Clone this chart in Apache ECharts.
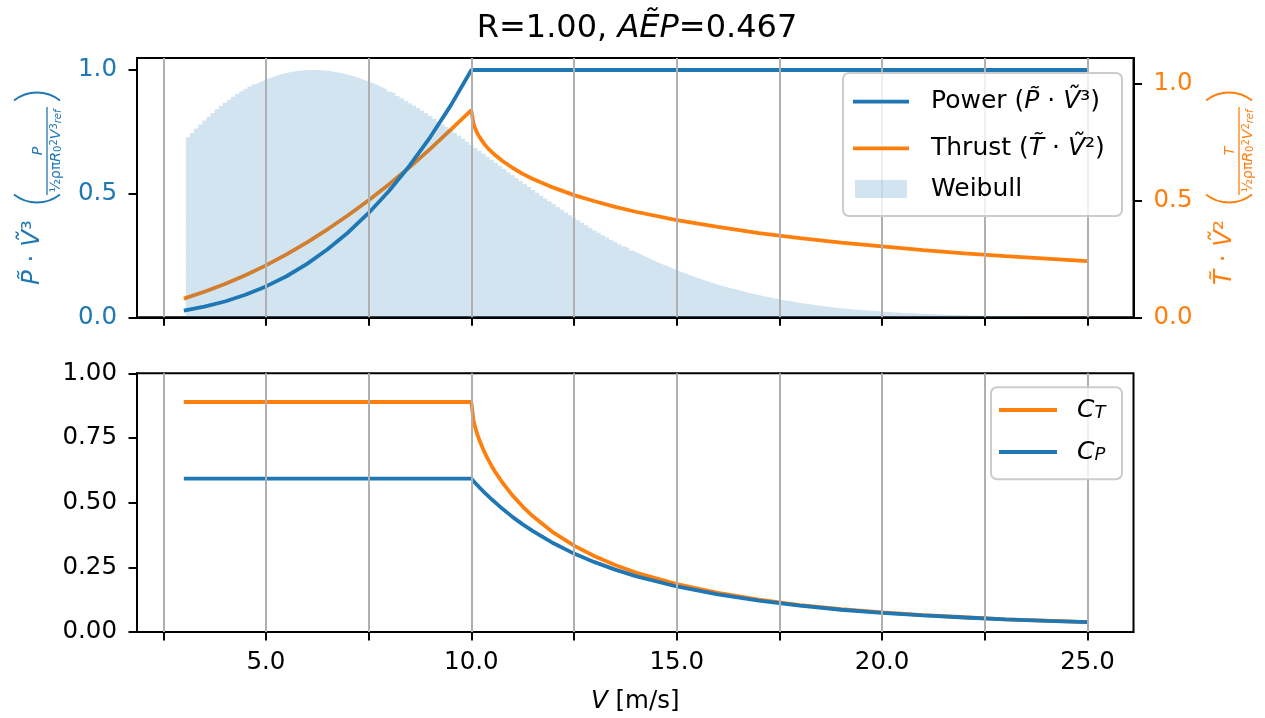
<!DOCTYPE html>
<html>
<head>
<meta charset="utf-8">
<script src="https://cdn.jsdelivr.net/npm/echarts@6/dist/echarts.min.js"></script>
<style>
html,body{margin:0;padding:0;background:#fff;}
#chart{width:1265px;height:718px;}
</style>
</head>
<body>
<div id="chart"></div>
<script>
// ---------------- data ----------------
const windSpeed = [3.0,3.5,4.0,4.5,5.0,5.5,6.0,6.5,7.0,7.5,8.0,8.5,9.0,9.5,10.0,
  10.05,10.1,10.15,10.2,10.3,10.4,10.5,10.6,10.75,11.0,11.25,11.5,12.0,12.5,13.0,13.5,14.0,
  15.0,16.0,17.0,18.0,19.0,20.0,21.0,22.0,23.0,24.0,25.0];
const powerNorm = [0.027,0.043,0.064,0.091,0.125,0.166,0.216,0.275,0.343,0.422,0.512,0.614,0.729,0.857,1.0,
  1.0,1.0,1.0,1.0,1.0,1.0,1.0,1.0,1.0,1.0,1.0,1.0,1.0,1.0,1.0,1.0,1.0,
  1.0,1.0,1.0,1.0,1.0,1.0,1.0,1.0,1.0,1.0,1.0];
const thrustNorm = [0.080,0.109,0.142,0.180,0.222,0.269,0.320,0.376,0.436,0.500,0.569,0.642,0.720,0.802,0.885,
  0.828,0.804,0.785,0.770,0.744,0.723,0.706,0.690,0.669,0.639,0.613,0.591,0.554,0.522,0.496,0.472,0.451,
  0.415,0.386,0.360,0.338,0.319,0.303,0.287,0.273,0.261,0.251,0.240];
const ctValues = [0.889,0.889,0.889,0.889,0.889,0.889,0.889,0.889,0.889,0.889,0.889,0.889,0.889,0.889,0.889,
  0.819,0.788,0.762,0.740,0.701,0.669,0.640,0.614,0.579,0.528,0.485,0.447,0.384,0.334,0.293,0.259,0.230,
  0.185,0.151,0.125,0.104,0.088,0.076,0.065,0.057,0.049,0.044,0.038];
const cpValues = [0.593,0.593,0.593,0.593,0.593,0.593,0.593,0.593,0.593,0.593,0.593,0.593,0.593,0.593,0.593,
  0.584,0.575,0.567,0.558,0.542,0.527,0.512,0.498,0.477,0.445,0.416,0.390,0.343,0.303,0.270,0.241,0.216,
  0.176,0.145,0.121,0.102,0.086,0.074,0.064,0.056,0.049,0.043,0.038];

const weibullStart = 3.05;
const weibullBinWidth = 0.1;
const weibullValues = [
  0.728,0.745,0.763,0.780,0.796,0.811,0.826,0.841,0.854,0.868,
  0.880,0.892,0.903,0.914,0.924,0.933,0.942,0.950,0.958,0.965,
  0.971,0.977,0.982,0.986,0.990,0.993,0.996,0.998,0.999,1.000,
  1.000,1.000,0.999,0.998,0.996,0.993,0.990,0.987,0.983,0.979,
  0.974,0.969,0.963,0.957,0.950,0.944,0.936,0.929,0.921,0.912,
  0.904,0.895,0.886,0.876,0.866,0.856,0.846,0.836,0.825,0.814,
  0.803,0.792,0.780,0.769,0.757,0.745,0.734,0.722,0.710,0.697,
  0.685,0.673,0.661,0.649,0.636,0.624,0.612,0.600,0.587,0.575,
  0.563,0.551,0.539,0.527,0.515,0.504,0.492,0.480,0.469,0.458,
  0.446,0.435,0.424,0.413,0.403,0.392,0.382,0.372,0.361,0.351,
  0.342,0.332,0.323,0.313,0.304,0.295,0.286,0.278,0.269,0.261,
  0.253,0.245,0.237,0.230,0.222,0.215,0.208,0.201,0.194,0.188,
  0.181,0.175,0.169,0.163,0.157,0.151,0.146,0.141,0.136,0.130,
  0.126,0.121,0.116,0.112,0.108,0.103,0.099,0.095,0.092,0.088,
  0.084,0.081,0.078,0.074,0.071,0.068,0.066,0.063,0.060,0.057,
  0.055,0.053,0.050,0.048,0.046,0.044,0.042,0.040,0.038,0.036,
  0.035,0.033,0.032,0.030,0.029,0.027,0.026,0.025,0.024,0.022,
  0.021,0.020,0.019,0.018,0.017,0.016,0.016,0.015,0.014,0.013,
  0.013,0.012,0.011,0.011,0.010,0.010,0.009,0.009,0.008,0.008,
  0.007,0.007,0.007,0.006,0.006,0.006,0.005,0.005,0.005,0.004,
  0.004,0.004,0.004,0.003,0.003,0.003,0.003,0.003,0.002,0.002,
  0.002,0.002,0.002,0.002,0.002,0.002,0.001,0.001,0.001,0.001,
  0.001];

const xGridTicks = [2.5,5,7.5,10,12.5,15,17.5,20,22.5,25];
const xTickLabels = [5,10,15,20,25];
const topLeftTicks = [0,0.5,1.0];
const topRightTicks = [0,0.5,1.0];
const bottomTicks = [0,0.25,0.5,0.75,1.0];

const titleR = '1.00';
const titleAEP = '0.467';

// ---------------- styling ----------------
const FONT = 'DejaVu Sans';
const BLUE = '#1f77b4';
const ORANGE = '#ff7f0e';
const FILL = 'rgba(31,119,180,0.2)';
const TIL = '\u0303';
const VT = '\u1E7C';
const TICK_FS = 24.5;
const LW = 3.8;

function zip(xs, ys){ return xs.map((x,i)=>[x, ys[i]]); }
const weibullData = weibullValues.map((v,i)=>[weibullStart + i*weibullBinWidth, v]);

function rich(color, size){
  return {
    n:{fontFamily:FONT, fontSize:size, fill:color, color:color},
    i:{fontFamily:FONT, fontSize:size, fontStyle:'italic', fill:color, color:color},
    sb:{fontFamily:FONT, fontSize:Math.round(size*0.7), fontStyle:'italic', fill:color, color:color, verticalAlign:'bottom', lineHeight:Math.round(size*0.7)},
    sp:{fontFamily:FONT, fontSize:Math.round(size*0.7), fill:color, color:color, verticalAlign:'top', lineHeight:Math.round(size*0.7)},
    sbn:{fontFamily:FONT, fontSize:Math.round(size*0.7), fill:color, color:color, verticalAlign:'bottom', lineHeight:Math.round(size*0.7)}
  };
}
function txt(x, y, text, color, size, align, valign, extra){
  return Object.assign({type:'text', x:x, y:y, silent:true, z:100, style:{
    text:text, fill:color, fontFamily:FONT, fontSize:size,
    align:align, textAlign:align, verticalAlign:valign, textVerticalAlign:valign,
    rich:rich(color,size)
  }}, extra||{});
}

function yLabelGroup(gx, color, letter, powDigit){
  const h = 23, s = 8, r = (h*h + s*s)/(2*s);
  const half = Math.asin(h/r);
  const lineW = 1.8;
  return {
    type:'group', x:gx, y:310, rotation:Math.PI/2, silent:true, z:100,
    children:[
      txt(25, 33, '{i|'+letter+TIL+'}{n| \u00B7 }{i|'+VT+'}{n|'+powDigit+'}', color, 24.5, 'left', 'middle'),
      {type:'arc', shape:{cx:107.5+r, cy:37, r:r, startAngle:Math.PI-half, endAngle:Math.PI+half, clockwise:true},
        style:{stroke:color, lineWidth:lineW, fill:null}},
      {type:'arc', shape:{cx:217.5-r, cy:37, r:r, startAngle:-half, endAngle:half, clockwise:true},
        style:{stroke:color, lineWidth:lineW, fill:null}},
      txt(159, 45, '{i|'+letter+'}', color, 14, 'center', 'bottom'),
      {type:'line', shape:{x1:115, y1:47, x2:203, y2:47}, style:{stroke:color, lineWidth:1.3}},
      txt(159, 49, '{n|\u00BD\u03C1\u03C0}{i|R}{sbn|0}{sp|2}{i|V}{sp|'+(powDigit==='\u00B3'?'3':'2')+'}{sb|ref}', color, 14, 'center', 'top')
    ]
  };
}

const chart = echarts.init(document.getElementById('chart'), null, {renderer:'canvas'});

const axisLineStyle = {show:true, lineStyle:{color:'#000', width:2}};
const tickStyle = (vals)=>({show:true, customValues:vals, length:8.5, inside:false, lineStyle:{color:'#000', width:2}});

const option = {
  animation:false,
  backgroundColor:'#ffffff',
  grid:[
    {left:137, top:58, width:996.5, height:259.3, show:true, borderColor:'#000', borderWidth:2, backgroundColor:'rgba(0,0,0,0)', containLabel:false, outerBoundsMode:'none'},
    {left:137, top:373.3, width:996.5, height:258.7, show:true, borderColor:'#000', borderWidth:2, backgroundColor:'rgba(0,0,0,0)', containLabel:false, outerBoundsMode:'none'}
  ],
  xAxis:[
    {type:'value', gridIndex:0, min:1.86, max:26.12, axisLine:axisLineStyle, axisTick:tickStyle(xGridTicks),
      axisLabel:{show:false}, splitLine:{show:false}},
    {type:'value', gridIndex:1, min:1.86, max:26.12, axisLine:axisLineStyle, axisTick:tickStyle(xGridTicks),
      axisLabel:{show:true, customValues:xTickLabels, formatter:(v)=>Number(v).toFixed(1), color:'#000', fontSize:TICK_FS, fontFamily:FONT, margin:18},
      splitLine:{show:false},
      name:'{i|V} [m/s]', nameLocation:'middle', nameGap:57,
      nameTextStyle:{color:'#000', fontSize:TICK_FS, fontFamily:FONT, rich:{i:{fontStyle:'italic', fontSize:TICK_FS, fontFamily:FONT, color:'#000'}}}}
  ],
  yAxis:[
    {type:'value', gridIndex:0, position:'left', min:0, max:1.0485, axisLine:axisLineStyle, axisTick:tickStyle(topLeftTicks),
      axisLabel:{show:true, customValues:topLeftTicks, formatter:(v)=>Number(v).toFixed(1), color:BLUE, fontSize:TICK_FS, fontFamily:FONT, margin:20},
      splitLine:{show:false}},
    {type:'value', gridIndex:0, position:'right', min:0, max:1.108, axisLine:axisLineStyle, axisTick:tickStyle(topRightTicks),
      axisLabel:{show:true, customValues:topRightTicks, formatter:(v)=>Number(v).toFixed(1), color:ORANGE, fontSize:TICK_FS, fontFamily:FONT, margin:20},
      splitLine:{show:false}},
    {type:'value', gridIndex:1, position:'left', min:0, max:1, axisLine:axisLineStyle, axisTick:tickStyle(bottomTicks),
      axisLabel:{show:true, customValues:bottomTicks, formatter:(v)=>Number(v).toFixed(2), color:'#000', fontSize:TICK_FS, fontFamily:FONT, margin:20},
      splitLine:{show:false}}
  ],
  series:[
    {name:'gridTop', type:'line', xAxisIndex:0, yAxisIndex:0, data:[], z:1, silent:true,
      markLine:{silent:true, symbol:['none','none'], label:{show:false}, animation:false,
        lineStyle:{color:'#b0b0b0', width:2, type:'solid'}, emphasis:{disabled:true},
        data:xGridTicks.map(v=>({xAxis:v}))}},
    {name:'Thrust', type:'line', xAxisIndex:0, yAxisIndex:1, data:zip(windSpeed, thrustNorm), z:2,
      symbol:'none', showSymbol:false, lineStyle:{color:ORANGE, width:LW}, itemStyle:{color:ORANGE}, silent:true},
    {name:'Weibull', type:'line', xAxisIndex:0, yAxisIndex:0, data:weibullData, step:'end', z:3,
      symbol:'none', showSymbol:false, lineStyle:{width:0, opacity:0}, itemStyle:{color:FILL},
      areaStyle:{color:FILL, opacity:1, origin:'start'}, silent:true},
    {name:'Power', type:'line', xAxisIndex:0, yAxisIndex:0, data:zip(windSpeed, powerNorm), z:4,
      symbol:'none', showSymbol:false, lineStyle:{color:BLUE, width:LW}, itemStyle:{color:BLUE}, silent:true},
    {name:'gridBottom', type:'line', xAxisIndex:1, yAxisIndex:2, data:[], z:1, silent:true,
      markLine:{silent:true, symbol:['none','none'], label:{show:false}, animation:false,
        lineStyle:{color:'#b0b0b0', width:2, type:'solid'}, emphasis:{disabled:true},
        data:xGridTicks.map(v=>({xAxis:v}))}},
    {name:'CT', type:'line', xAxisIndex:1, yAxisIndex:2, data:zip(windSpeed, ctValues), z:2,
      symbol:'none', showSymbol:false, lineStyle:{color:ORANGE, width:LW}, itemStyle:{color:ORANGE}, silent:true},
    {name:'CP', type:'line', xAxisIndex:1, yAxisIndex:2, data:zip(windSpeed, cpValues), z:3,
      symbol:'none', showSymbol:false, lineStyle:{color:BLUE, width:LW}, itemStyle:{color:BLUE}, silent:true}
  ],
  graphic:[
    // title
    txt(637, 29, '{n|R='+titleR+', }{i|A\u1EBCP}{n|='+titleAEP+'}', '#000', 32, 'center', 'middle'),
    // y-axis labels
    yLabelGroup(0, BLUE, 'P', '\u00B3'),
    yLabelGroup(1192, ORANGE, 'T', '\u00B2'),
    // top legend
    {type:'rect', z:90, silent:true, shape:{x:843, y:73, width:279, height:143, r:6},
      style:{fill:'rgba(255,255,255,0.8)', stroke:'#cccccc', lineWidth:2}},
    {type:'line', z:91, silent:true, shape:{x1:853, y1:101.7, x2:909, y2:101.7}, style:{stroke:BLUE, lineWidth:LW}},
    txt(931, 101.7, '{n|Power (}{i|P'+TIL+'}{n| \u00B7 }{i|'+VT+'}{n|\u00B3)}', '#000', 25, 'left', 'middle'),
    {type:'line', z:91, silent:true, shape:{x1:853, y1:148.3, x2:909, y2:148.3}, style:{stroke:ORANGE, lineWidth:LW}},
    txt(931, 148.3, '{n|Thrust (}{i|T'+TIL+'}{n| \u00B7 }{i|'+VT+'}{n|\u00B2)}', '#000', 25, 'left', 'middle'),
    {type:'rect', z:91, silent:true, shape:{x:855, y:180, width:52, height:18}, style:{fill:FILL}},
    txt(931, 189, '{n|Weibull}', '#000', 25, 'left', 'middle'),
    // bottom legend
    {type:'rect', z:90, silent:true, shape:{x:991, y:387.3, width:131, height:92, r:6},
      style:{fill:'rgba(255,255,255,0.8)', stroke:'#cccccc', lineWidth:2}},
    {type:'line', z:91, silent:true, shape:{x1:999, y1:410, x2:1057, y2:410}, style:{stroke:ORANGE, lineWidth:LW}},
    txt(1077, 410, '{i|C}{sb|T}', '#000', 25, 'left', 'middle'),
    {type:'line', z:91, silent:true, shape:{x1:999, y1:452, x2:1057, y2:452}, style:{stroke:BLUE, lineWidth:LW}},
    txt(1077, 452, '{i|C}{sb|P}', '#000', 25, 'left', 'middle')
  ]
};
chart.setOption(option);
</script>
</body>
</html>
